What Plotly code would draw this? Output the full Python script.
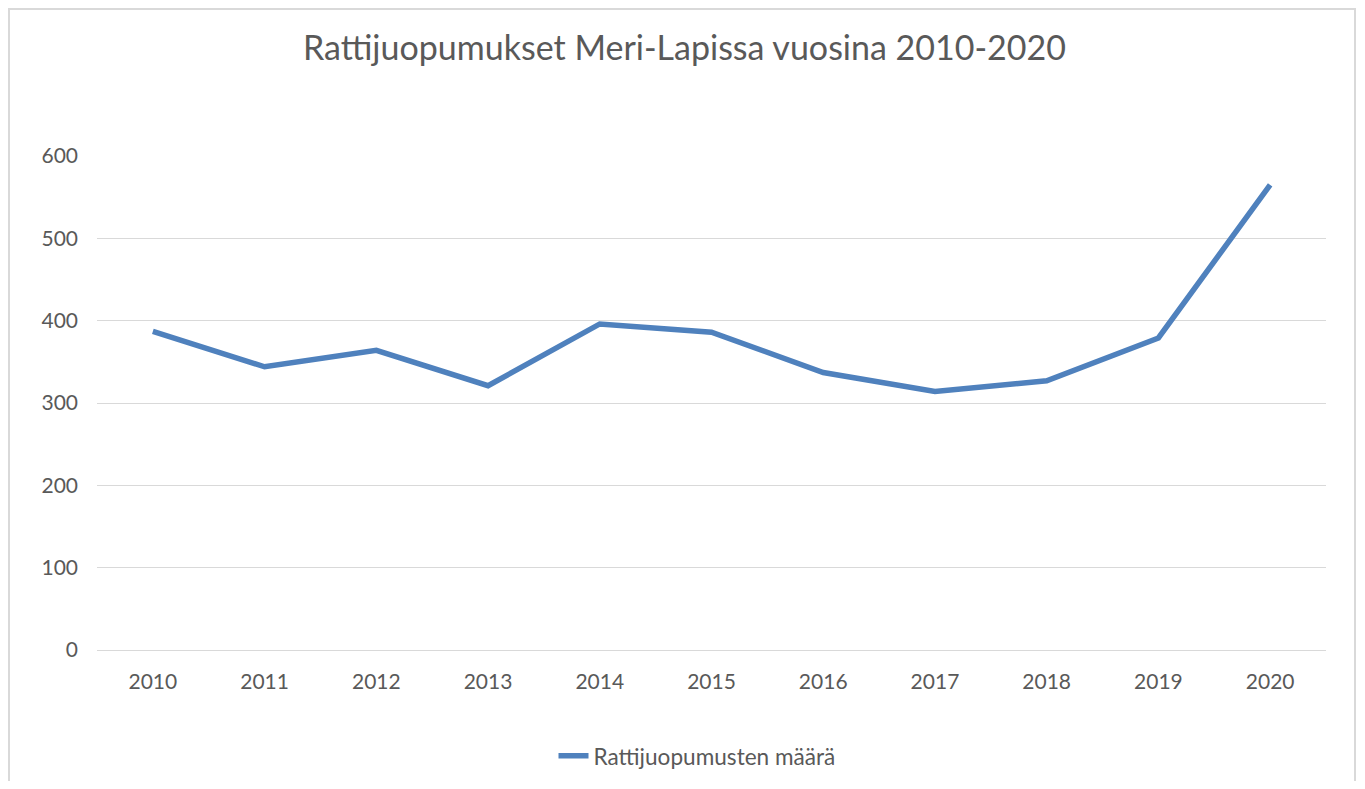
import plotly.graph_objects as go

years = ["2010", "2011", "2012", "2013", "2014", "2015", "2016", "2017", "2018", "2019", "2020"]
counts = [387, 344, 364, 321, 396, 386, 337, 314, 327, 379, 565]
series_name = "Rattijuopumusten määrä"
title_text = "Rattijuopumukset Meri-Lapissa vuosina 2010-2020"
y_ticks = [0, 100, 200, 300, 400, 500, 600]

FONT = "Lato"
TXT = "#595959"
GRID = "#D9D9D9"

# the page body has an 8px margin, so the figure sits at (8, 8);
# keep it inside the window so no scrollbars appear
OFF = 8
W, H = 1365 - 2 * OFF, 789 - 2 * OFF

fig = go.Figure()
fig.add_trace(go.Scatter(
    x=years, y=counts, mode="lines", name=series_name,
    line=dict(color="#4F81BD", width=5.5, shape="linear"),
))

# target plot area in page pixels: x 97..1326, y 156..650
L, T = 97 - OFF, 156 - OFF
R = (W + OFF) - 1326
B = (H + OFF) - 650
pw, ph = W - L - R, H - T - B

def px_x(p):
    return (p - 97) / pw

def px_y(p):
    return (650 - p) / ph

fig.update_layout(
    width=W, height=H,
    margin=dict(l=L, r=R, t=T, b=B, autoexpand=False),
    paper_bgcolor="white", plot_bgcolor="white",
    font=dict(family=FONT, color=TXT, size=21),
    title=dict(text=title_text, x=(684.5 - OFF) / W, xanchor="center", xref="container",
               y=1 - (48 - OFF) / H, yanchor="middle", yref="container",
               font=dict(family=FONT, size=34, color=TXT)),
    showlegend=True,
    legend=dict(orientation="h", x=px_x(697), xanchor="center",
                y=px_y(756), yanchor="middle",
                font=dict(family=FONT, size=22.6, color=TXT),
                bgcolor="rgba(0,0,0,0)"),
    xaxis=dict(type="category", range=[-0.5, len(years) - 0.5],
               showgrid=False, showline=True, linecolor=GRID, linewidth=1,
               ticks="", ticklabelstandoff=13,
               tickfont=dict(family=FONT, size=21, color=TXT)),
    yaxis=dict(range=[0, 600], tickvals=y_ticks, showgrid=True,
               gridcolor=GRID, gridwidth=1, zeroline=True, zerolinecolor=GRID,
               showline=False, ticks="", ticklabelstandoff=18,
               tickfont=dict(family=FONT, size=21, color=TXT)),
    shapes=[
        dict(type="rect", xref="paper", yref="paper",
             x0=px_x(9), x1=px_x(1355), y0=px_y(800), y1=px_y(9),
             line=dict(color=GRID, width=2), fillcolor="rgba(0,0,0,0)",
             layer="below"),
    ],
)

fig.write_html("out.html")
